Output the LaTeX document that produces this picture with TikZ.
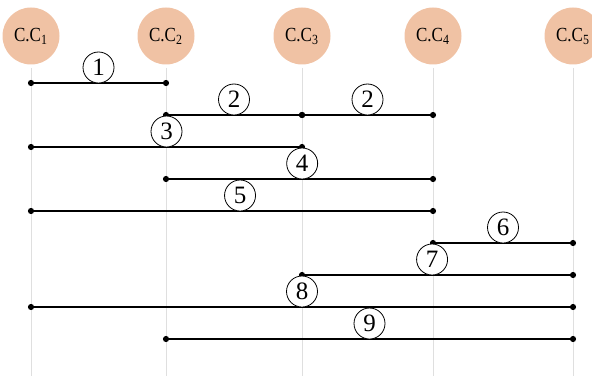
\documentclass[tikz,border=0pt]{standalone}
\usepackage{fontspec}
\setmainfont{Liberation Serif}
\usetikzlibrary{arrows.meta,positioning}
\definecolor{peach}{RGB}{240,194,164}
\newcommand{\ccname}[1]{\scalebox{0.85}[1]{C.C\textsubscript{#1}}}

\begin{document}
\begin{tikzpicture}[x=0.5pt,y=-0.5pt,
   unit/.style={circle,fill=peach,minimum size=28.5pt,inner sep=0pt,font=\fontsize{10}{12}\selectfont},
   tag/.style={circle,draw,fill=white,line width=0.4pt,minimum size=15.5pt,inner sep=0pt,outer sep=0pt,above,font=\fontsize{12.5}{14}\selectfont},
   guide/.style={gray!25,line width=0.5pt},
   link/.style={line width=1pt,{Circle[length=3pt]}-{Circle[length=3pt]},shorten <=-1.5pt,shorten >=-1.5pt}]
   \useasboundingbox (0,0) rectangle (592,379);
   \node[unit] (cc1) at (31,36)  {\ccname{1}};
   \node[unit] (cc2) at (166,36) {\ccname{2}};
   \node[unit] (cc3) at (302,36) {\ccname{3}};
   \node[unit] (cc4) at (433,36) {\ccname{4}};
   \node[unit] (cc5) at (573,36) {\ccname{5}};
   \foreach \c in {cc1,cc2,cc3,cc4,cc5}
      \draw[guide] (\c |- 0,68) -- (\c |- 0,376);
   \draw[link] (cc1 |- 0,83) -- node[tag] {1} (cc2 |- 0,83);
   \draw[link] (cc2 |- 0,115) -- node[tag] {2} (cc3 |- 0,115);
   \draw[link] (cc3 |- 0,115) -- node[tag] {2} (cc4 |- 0,115);
   \draw[link] (cc1 |- 0,147) -- node[tag] {3} (cc3 |- 0,147);
   \draw[link] (cc2 |- 0,179) -- node[tag,pos=0.51] {4} (cc4 |- 0,179);
   \draw[link] (cc1 |- 0,211) -- node[tag,pos=0.52] {5} (cc4 |- 0,211);
   \draw[link] (cc4 |- 0,243) -- node[tag] {6} (cc5 |- 0,243);
   \draw[link] (cc3 |- 0,275) -- node[tag,pos=0.48] {7} (cc5 |- 0,275);
   \draw[link] (cc1 |- 0,307) -- node[tag] {8} (cc5 |- 0,307);
   \draw[link] (cc2 |- 0,339) -- node[tag] {9} (cc5 |- 0,339);
\end{tikzpicture}
\end{document}
